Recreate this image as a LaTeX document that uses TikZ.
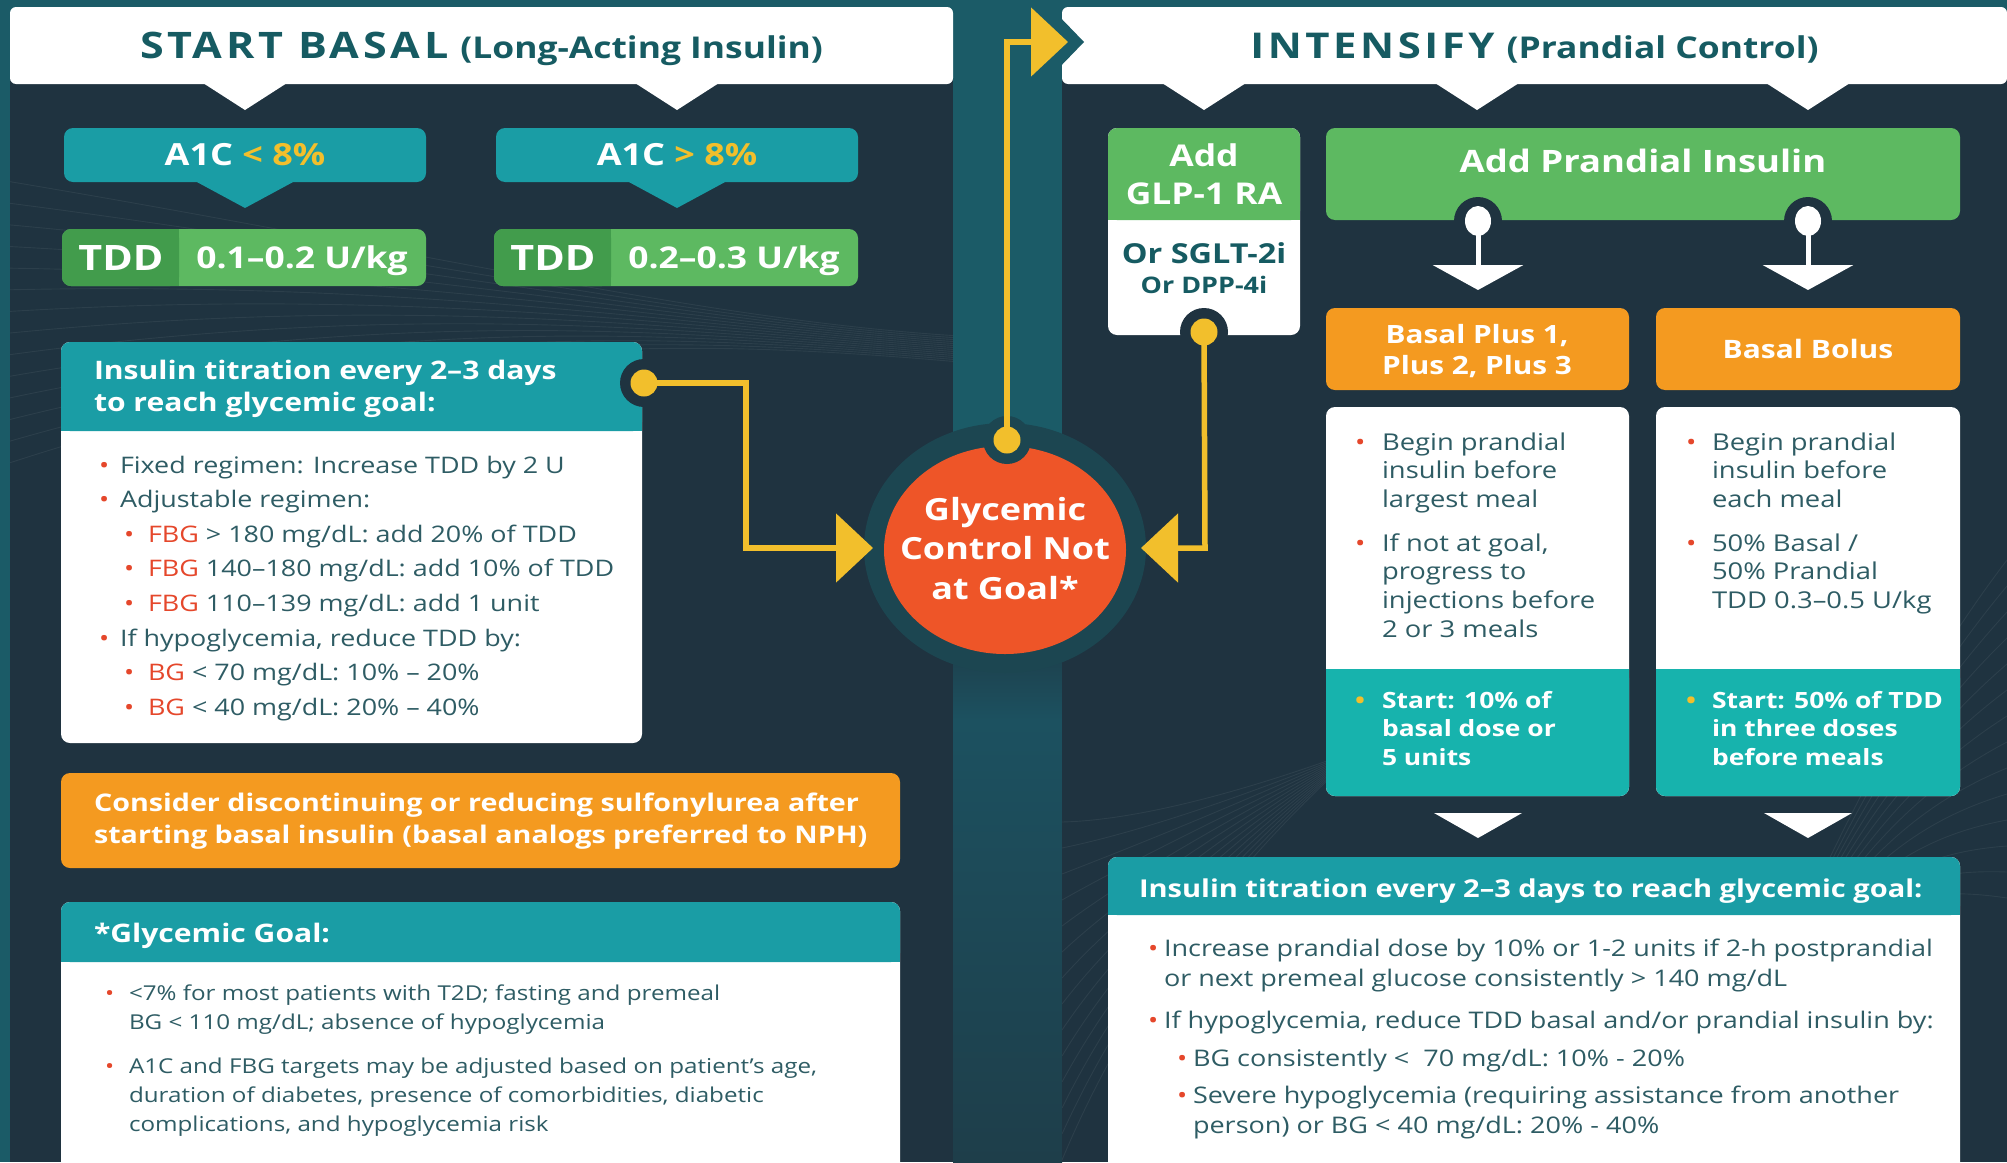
\documentclass[tikz,border=0pt]{standalone}
\usepackage{fontspec}
\setmainfont{Open Sans}[FakeStretch=1.18]
\usetikzlibrary{arrows.meta,shapes.geometric}

\definecolor{bgteal}{HTML}{1B5B67}
\definecolor{navy}{HTML}{1F3340}
\definecolor{ringc}{HTML}{1C4651}
\definecolor{bandlow}{HTML}{1E3E4A}
\definecolor{bandglow}{HTML}{1C5160}
\definecolor{tealbox}{HTML}{1A9DA5}
\definecolor{tealfoot}{HTML}{17B3AD}
\definecolor{greenbox}{HTML}{5DB961}
\definecolor{greendark}{HTML}{429C4C}
\definecolor{orangebox}{HTML}{F49A20}
\definecolor{goalred}{HTML}{EE5528}
\definecolor{yel}{HTML}{F2BF2C}
\definecolor{headtxt}{HTML}{165B62}
\definecolor{bodytxt}{HTML}{2E5C64}
\definecolor{redtxt}{HTML}{E5472B}

\newcommand\fs[2]{\fontsize{#1}{#2}\selectfont}
\newcommand\rb[1]{\makebox[#1][l]{\textcolor{redtxt}{•}}}
\newcommand\yb[1]{\makebox[#1][l]{\textcolor{yel}{•}}}
\newcommand\stk[2][c]{\begin{tabular}[t]{@{}#1@{}}#2\end{tabular}}
\newcommand\hdrdrop[1]{\raisebox{-3pt}[\height][\depth]{#1}}

\tikzset{
  every node/.style={inner sep=0pt, outer sep=0pt},
  hdr/.style={anchor=north west, fill=white, minimum height=77pt, rounded corners=6pt, text=headtxt},
  box/.style={anchor=north west, rounded corners=9pt},
  a1cbox/.style={box, fill=tealbox, minimum width=362pt, minimum height=54pt, text=white, font=\bfseries\fs{30.5}{34}},
  tddbox/.style={box, fill=greenbox, minimum width=364pt, minimum height=57pt},
  wtxt/.style={text=white},
  btxt/.style={text=bodytxt},
  yline/.style={draw=yel, line width=5.5pt},
  ytip/.style={-{Triangle[length=37pt,width=68pt]}},
  ydot/.style={circle, fill=yel, minimum size=27pt},
  wdot/.style={ellipse, fill=white, minimum width=26pt, minimum height=30pt},
  notch/.style={circle, fill=#1, minimum size=48pt},
  wline/.style={draw=white, line width=5pt, -{Triangle[length=25pt,width=90pt]}},
  wave/.style={draw=white, draw opacity=0.06, line width=0.9pt},
}

\begin{document}
\begin{tikzpicture}[x=1pt,y=-1pt]
\useasboundingbox (0,0) rectangle (2007,1162);

% backdrop, the central band below the goal and the two panels
\fill[bgteal] (0,0) rectangle (2007,1162);
\shade[top color=bandlow, bottom color=bandglow] (953,640) rectangle (1062,720);
\shade[top color=bandglow, bottom color=bandlow] (953,720) rectangle (1062,1162);
\fill[navy] (10,40) rectangle (953,1162);
\fill[navy] (1062,40) rectangle (2007,1162);

% faint line texture in the panels
\begin{scope}
  \clip (10,40) rectangle (953,1162) (1062,40) rectangle (2007,1162);
  \foreach \i in {0,...,13} {
    \draw[wave] (0,180+\i*22) .. controls (420,250+\i*6) and (700,320+\i*1.5) .. (960,336+\i*2);
    \draw[wave] (1062,1160-\i*26) .. controls (1150,950-\i*10) and (1300,780) .. (1500,640+\i*4);
    \draw[wave] (2007,560+\i*26) .. controls (1900,700+\i*14) and (1800,900) .. (1700,1162);
  }
\end{scope}

% ---------------- headers ----------------
\node[hdr, minimum width=943pt] (hdrL) at (10,7)
  {\hdrdrop{{\bfseries\fs{36.5}{40}\addfontfeature{LetterSpace=10}START BASAL}\hspace{12pt}{\bfseries\fs{30}{40}(Long-Acting Insulin)}}};
\fill[white] (203,83) -- (287,83) -- (245,110) -- cycle;
\fill[white] (635,83) -- (719,83) -- (677,110) -- cycle;

\node[hdr, minimum width=945pt] (hdrR) at (1062,7)
  {\hdrdrop{{\bfseries\fs{35.5}{40}\addfontfeature{LetterSpace=10}INTENSIFY}\hspace{12pt}{\bfseries\fs{30}{40}(Prandial Control)}}};
\fill[white] (1162,83) -- (1246,83) -- (1204,110) -- cycle;
\fill[white] (1435,83) -- (1519,83) -- (1477,110) -- cycle;
\fill[white] (1766,83) -- (1850,83) -- (1808,110) -- cycle;
% notch in the right header for the incoming arrow
\fill[bgteal] (1055,12) -- (1084,42) -- (1055,72) -- cycle;

% ---------------- A1C and TDD ----------------
\node[a1cbox] (a1cA) at (64,128) {A1C \textcolor{yel}{< 8\%}};
\fill[tealbox] (195,181) -- (295,181) -- (245,208) -- cycle;
\node[a1cbox] (a1cB) at (496,128) {A1C \textcolor{yel}{> 8\%}};
\fill[tealbox] (627,181) -- (727,181) -- (677,208) -- cycle;

\node[tddbox] (tddA) at (62,229) {};
\fill[greendark, rounded corners=9pt] (62,229) rectangle (179,286);
\fill[greendark] (160,229) rectangle (179,286);
\node[wtxt, font=\bfseries\fs{35}{38}, anchor=base] (tddAk) at (121,270) {TDD};
\node[wtxt, font=\bfseries\fs{30}{34}, anchor=base] (tddAv) at (302,268) {0.1–0.2 U/kg};

\node[tddbox] (tddB) at (494,229) {};
\fill[greendark, rounded corners=9pt] (494,229) rectangle (611,286);
\fill[greendark] (592,229) rectangle (611,286);
\node[wtxt, font=\bfseries\fs{35}{38}, anchor=base] (tddBk) at (553,270) {TDD};
\node[wtxt, font=\bfseries\fs{30}{34}, anchor=base] (tddBv) at (734,268) {0.2–0.3 U/kg};

% ---------------- basal titration ----------------
\node[box, fill=white, minimum width=581pt, minimum height=401pt] (titL) at (61,342) {};
\fill[tealbox, rounded corners=9pt] (61,342) rectangle (642,431);
\fill[tealbox] (61,415) rectangle (642,431);
\node[wtxt, anchor=base west, font=\bfseries\fs{25.5}{32}] (titLh) at (94,379)
  {\stk[l]{Insulin titration every 2–3 days\\to reach glycemic goal:}};
\node[btxt, anchor=base west, font=\fs{22.8}{34.6}] (titLl) at (99,473) {\stk[l]{%
\rb{21pt}Fixed regimen: Increase TDD by 2 U\\
\rb{21pt}Adjustable regimen:\\
\hspace*{25pt}\rb{24pt}\textcolor{redtxt}{FBG} > 180 mg/dL: add 20\% of TDD\\
\hspace*{25pt}\rb{24pt}\textcolor{redtxt}{FBG} 140–180 mg/dL: add 10\% of TDD\\
\hspace*{25pt}\rb{24pt}\textcolor{redtxt}{FBG} 110–139 mg/dL: add 1 unit\\
\rb{21pt}If hypoglycemia, reduce TDD by:\\
\hspace*{25pt}\rb{24pt}\textcolor{redtxt}{BG} < 70 mg/dL: 10\% – 20\%\\
\hspace*{25pt}\rb{24pt}\textcolor{redtxt}{BG} < 40 mg/dL: 20\% – 40\%}};

% ---------------- sulfonylurea note ----------------
\node[box, fill=orangebox, minimum width=839pt, minimum height=95pt] (sulf) at (61,773) {};
\node[wtxt, anchor=base west, font=\bfseries\fs{24.3}{32}] (sulft) at (94,811)
  {\stk[l]{Consider discontinuing or reducing sulfonylurea after\\starting basal insulin (basal analogs preferred to NPH)}};

% ---------------- glycemic goal ----------------
\node[box, fill=white, minimum width=839pt, minimum height=280pt] (goalbox) at (61,902) {};
\fill[tealbox, rounded corners=9pt] (61,902) rectangle (900,962);
\fill[tealbox] (61,946) rectangle (900,962);
\node[wtxt, anchor=base west, font=\bfseries\fs{25.5}{32}] (goalh) at (94,942) {*Glycemic Goal:};
\node[btxt, anchor=base west, font=\fs{20.5}{29}] (goall) at (105,1000) {\stk[l]{%
\rb{24pt}<7\% for most patients with T2D; fasting and premeal\\
\hspace*{24pt}BG < 110 mg/dL; absence of hypoglycemia\\[15pt]
\rb{24pt}A1C and FBG targets may be adjusted based on patient’s age,\\
\hspace*{24pt}duration of diabetes, presence of comorbidities, diabetic\\
\hspace*{24pt}complications, and hypoglycemia risk}};

% ---------------- centre: goal not reached ----------------
\node[ellipse, fill=ringc, minimum width=282pt, minimum height=250pt] (ring) at (1005,548) {};
\node[ellipse, fill=goalred, minimum width=242pt, minimum height=208pt] (goal) at (1005,550) {};
\node[wtxt, anchor=base, font=\bfseries\fs{30.5}{39.5}] (goalt) at (1005,520)
  {\stk{Glycemic\\Control Not\\at Goal*}};

% ---------------- intensify: GLP-1 RA ----------------
\node[box, fill=white, minimum width=192pt, minimum height=207pt] (glp) at (1108,128) {};
\fill[greenbox, rounded corners=9pt] (1108,128) rectangle (1300,220);
\fill[greenbox] (1108,204) rectangle (1300,220);
\node[wtxt, anchor=base, font=\bfseries\fs{30}{38}] (glpt) at (1204,166) {\stk{Add\\GLP-1 RA}};
\node[text=headtxt, anchor=base, font=\bfseries\fs{27.5}{30}] (sglt) at (1204,263) {Or SGLT-2i};
\node[text=headtxt, anchor=base, font=\bfseries\fs{22.8}{26}] (dpp) at (1204,293) {Or DPP-4i};

% ---------------- intensify: prandial insulin ----------------
\node[box, fill=greenbox, minimum width=634pt, minimum height=92pt] (prand) at (1326,128) {};
\node[wtxt, anchor=base, font=\bfseries\fs{30.9}{36}] (prandt) at (1643,172) {Add Prandial Insulin};

\node[box, fill=orangebox, minimum width=303pt, minimum height=82pt] (bplus) at (1326,308) {};
\node[wtxt, anchor=base, font=\bfseries\fs{25.2}{31}] (bplust) at (1477,343) {\stk{Basal Plus 1,\\Plus 2, Plus 3}};
\node[box, fill=orangebox, minimum width=304pt, minimum height=82pt] (bbol) at (1656,308) {};
\node[wtxt, anchor=base, font=\bfseries\fs{25.4}{31}] (bbolt) at (1808,358) {Basal Bolus};

% detail cards
\node[box, fill=white, minimum width=303pt, minimum height=389pt] (cardA) at (1326,407) {};
\fill[tealfoot, rounded corners=9pt] (1326,669) rectangle (1629,796);
\fill[tealfoot] (1326,669) rectangle (1629,690);
\node[btxt, anchor=base west, font=\fs{23.2}{28.7}] (cardAl) at (1355,450) {\stk[l]{%
\rb{27pt}Begin prandial\\ \hspace*{27pt}insulin before\\ \hspace*{27pt}largest meal\\[15pt]
\rb{27pt}If not at goal,\\ \hspace*{27pt}progress to\\ \hspace*{27pt}injections before\\ \hspace*{27pt}2 or 3 meals}};
\node[wtxt, anchor=base west, font=\bfseries\fs{22.4}{28.7}] (cardAs) at (1355,708) {\stk[l]{%
\yb{27pt}Start: 10\% of\\ \hspace*{27pt}basal dose or\\ \hspace*{27pt}5 units}};

\node[box, fill=white, minimum width=304pt, minimum height=389pt] (cardB) at (1656,407) {};
\fill[tealfoot, rounded corners=9pt] (1656,669) rectangle (1960,796);
\fill[tealfoot] (1656,669) rectangle (1960,690);
\node[btxt, anchor=base west, font=\fs{23.2}{28.7}] (cardBl) at (1686,450) {\stk[l]{%
\rb{26pt}Begin prandial\\ \hspace*{26pt}insulin before\\ \hspace*{26pt}each meal\\[15pt]
\rb{26pt}50\% Basal /\\ \hspace*{26pt}50\% Prandial\\ \hspace*{26pt}TDD 0.3–0.5 U/kg}};
\node[wtxt, anchor=base west, font=\bfseries\fs{22.4}{28.7}] (cardBs) at (1686,708) {\stk[l]{%
\yb{26pt}Start: 50\% of TDD\\ \hspace*{26pt}in three doses\\ \hspace*{26pt}before meals}};

\fill[white] (1434,813) -- (1522,813) -- (1478,838) -- cycle;
\fill[white] (1764,813) -- (1852,813) -- (1808,838) -- cycle;

% ---------------- prandial titration ----------------
\node[box, fill=white, minimum width=852pt, minimum height=330pt] (titR) at (1108,857) {};
\fill[tealbox, rounded corners=9pt] (1108,857) rectangle (1960,915);
\fill[tealbox] (1108,899) rectangle (1960,915);
\node[wtxt, anchor=base west, font=\bfseries\fs{24.6}{30}] (titRh) at (1139,897)
  {Insulin titration every 2–3 days to reach glycemic goal:};
\node[btxt, anchor=base west, font=\fs{22.9}{30}] (titRl) at (1148,956) {\stk[l]{%
\rb{16pt}Increase prandial dose by 10\% or 1-2 units if 2-h postprandial\\
\hspace*{16pt}or next premeal glucose consistently > 140 mg/dL\\[12pt]
\rb{16pt}If hypoglycemia, reduce TDD basal and/or prandial insulin by:\\[8pt]
\hspace*{29pt}\rb{16pt}BG consistently <~ 70 mg/dL: 10\% - 20\%\\[7pt]
\hspace*{29pt}\rb{16pt}Severe hypoglycemia (requiring assistance from another\\
\hspace*{45pt}person) or BG < 40 mg/dL: 20\% - 40\%}};

% ---------------- connectors ----------------
\node[notch=navy] (nL) at (644,383) {};
\node[notch=ringc] (nT) at (1007,440) {};
\node[notch=navy] (nG) at (1204,332) {};
\node[notch=navy] (nA) at (1478,221) {};
\node[notch=navy] (nB) at (1808,221) {};

\coordinate (elbowL) at (746,548);
\coordinate (inL) at (873,548);
\coordinate (elbowT) at (1007,42);
\coordinate (inT) at (1068,42);
\coordinate (elbowG) at (1205,548);
\coordinate (inR) at (1141,548);
\coordinate (tipA) at (1478,290);
\coordinate (tipB) at (1808,290);

\draw[yline, ytip] (nL.center) -| (elbowL) -- (inL);
\draw[yline, ytip] (nT.center) -- (elbowT) -- (inT);
\draw[yline, ytip] (nG.center) -- (elbowG) -- (inR);
\draw[wline] (nA.center) -- (tipA);
\draw[wline] (nB.center) -- (tipB);

\node[ydot] (dotL) at (nL) {};
\node[ydot] (dotT) at (nT) {};
\node[ydot] (dotG) at (nG) {};
\node[wdot] (dotA) at (nA) {};
\node[wdot] (dotB) at (nB) {};
\end{tikzpicture}
\end{document}
